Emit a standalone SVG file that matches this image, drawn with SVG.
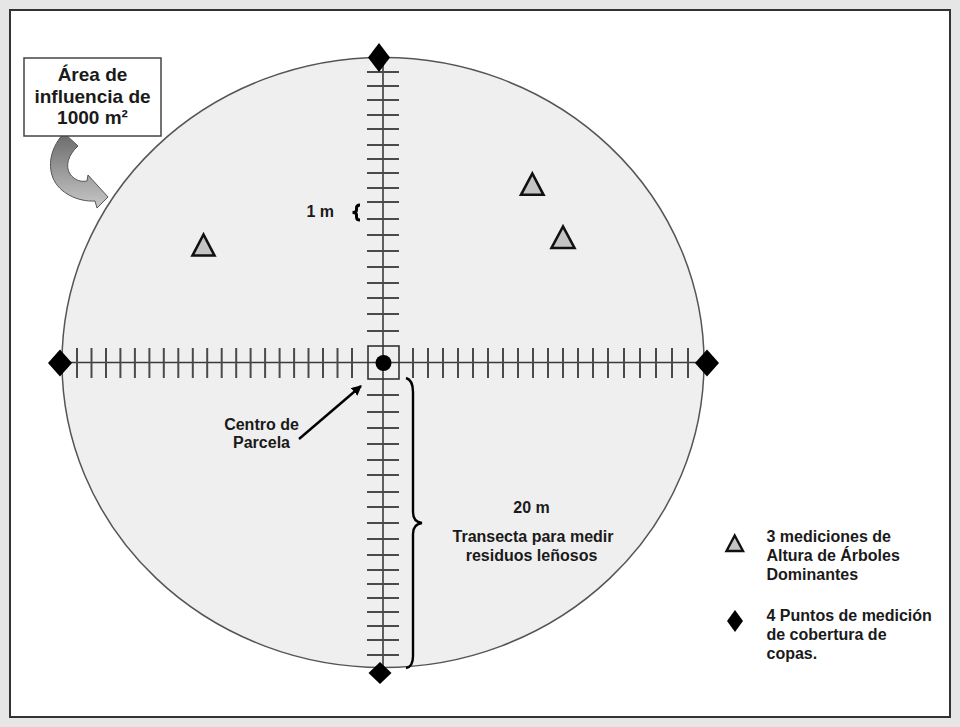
<svg xmlns="http://www.w3.org/2000/svg" width="960" height="727" viewBox="0 0 960 727">
<style>
.t{font-family:"Liberation Sans",Arial,sans-serif;font-weight:bold;font-size:16px;fill:#1a1a1a}
.tc{text-anchor:middle}
.tick{stroke:#4a4a4a;stroke-width:2}
.axis{stroke:#3a3a3a;stroke-width:1.6;fill:none}
.tri{fill:#c4c4c4;stroke:#111;stroke-width:2.6;stroke-linejoin:miter}
.dia{fill:#000}
</style>
<defs>
<linearGradient id="ag" x1="0" y1="0" x2="0" y2="1">
<stop offset="0" stop-color="#6a6a6a"/>
<stop offset="1" stop-color="#c8c8c8"/>
</linearGradient>
<marker id="ah" viewBox="0 0 10 10" refX="9" refY="5" markerWidth="10" markerHeight="10" markerUnits="userSpaceOnUse" orient="auto">
<path d="M0,0 L10,5 L0,10 Z" fill="#000"/>
</marker>
</defs>
<rect x="0" y="0" width="960" height="727" fill="#e6e6e6"/>
<rect x="10" y="10" width="940" height="707" fill="#fff" stroke="#333" stroke-width="2"/>
<g id="plot">
<ellipse cx="383" cy="362.5" rx="321" ry="305" fill="#efefef" stroke="#555" stroke-width="1.5"/>
</g>
<g id="connectors">
<line class="axis" x1="383" y1="57" x2="383" y2="670"/>
<line class="axis" x1="60" y1="362.5" x2="707" y2="362.5"/>
<g id="ticks-top">
<line class="tick" x1="367" y1="72" x2="399" y2="72"/>
<line class="tick" x1="367" y1="86" x2="399" y2="86"/>
<line class="tick" x1="367" y1="100" x2="399" y2="100"/>
<line class="tick" x1="367" y1="115" x2="399" y2="115"/>
<line class="tick" x1="367" y1="129" x2="399" y2="129"/>
<line class="tick" x1="367" y1="145" x2="399" y2="145"/>
<line class="tick" x1="367" y1="159" x2="399" y2="159"/>
<line class="tick" x1="367" y1="173" x2="399" y2="173"/>
<line class="tick" x1="367" y1="188" x2="399" y2="188"/>
<line class="tick" x1="367" y1="202" x2="399" y2="202"/>
<line class="tick" x1="367" y1="219" x2="399" y2="219"/>
<line class="tick" x1="367" y1="235" x2="399" y2="235"/>
<line class="tick" x1="367" y1="251" x2="399" y2="251"/>
<line class="tick" x1="367" y1="267" x2="399" y2="267"/>
<line class="tick" x1="367" y1="283" x2="399" y2="283"/>
<line class="tick" x1="367" y1="298" x2="399" y2="298"/>
<line class="tick" x1="367" y1="314" x2="399" y2="314"/>
<line class="tick" x1="367" y1="331" x2="399" y2="331"/>
</g>
<g id="ticks-bottom">
<line class="tick" x1="367" y1="395" x2="399" y2="395"/>
<line class="tick" x1="367" y1="412" x2="399" y2="412"/>
<line class="tick" x1="367" y1="428" x2="399" y2="428"/>
<line class="tick" x1="367" y1="444" x2="399" y2="444"/>
<line class="tick" x1="367" y1="460" x2="399" y2="460"/>
<line class="tick" x1="367" y1="475" x2="399" y2="475"/>
<line class="tick" x1="367" y1="492" x2="399" y2="492"/>
<line class="tick" x1="367" y1="507" x2="399" y2="507"/>
<line class="tick" x1="367" y1="523" x2="399" y2="523"/>
<line class="tick" x1="367" y1="539" x2="399" y2="539"/>
<line class="tick" x1="367" y1="555" x2="399" y2="555"/>
<line class="tick" x1="367" y1="570" x2="399" y2="570"/>
<line class="tick" x1="367" y1="584" x2="399" y2="584"/>
<line class="tick" x1="367" y1="598" x2="399" y2="598"/>
<line class="tick" x1="367" y1="612" x2="399" y2="612"/>
<line class="tick" x1="367" y1="626" x2="399" y2="626"/>
<line class="tick" x1="367" y1="640" x2="399" y2="640"/>
<line class="tick" x1="367" y1="655" x2="399" y2="655"/>
</g>
<g id="ticks-left">
<line class="tick" x1="77" y1="348" x2="77" y2="378"/>
<line class="tick" x1="91.5" y1="348" x2="91.5" y2="378"/>
<line class="tick" x1="106" y1="348" x2="106" y2="378"/>
<line class="tick" x1="120.4" y1="348" x2="120.4" y2="378"/>
<line class="tick" x1="134.9" y1="348" x2="134.9" y2="378"/>
<line class="tick" x1="149.4" y1="348" x2="149.4" y2="378"/>
<line class="tick" x1="163.8" y1="348" x2="163.8" y2="378"/>
<line class="tick" x1="178.3" y1="348" x2="178.3" y2="378"/>
<line class="tick" x1="192.8" y1="348" x2="192.8" y2="378"/>
<line class="tick" x1="207.2" y1="348" x2="207.2" y2="378" stroke="#222" stroke-width="2.6"/>
<line class="tick" x1="221.7" y1="348" x2="221.7" y2="378"/>
<line class="tick" x1="236.2" y1="348" x2="236.2" y2="378"/>
<line class="tick" x1="250.6" y1="348" x2="250.6" y2="378"/>
<line class="tick" x1="265.1" y1="348" x2="265.1" y2="378"/>
<line class="tick" x1="279.6" y1="348" x2="279.6" y2="378"/>
<line class="tick" x1="294.1" y1="348" x2="294.1" y2="378"/>
<line class="tick" x1="308.5" y1="348" x2="308.5" y2="378"/>
<line class="tick" x1="323" y1="348" x2="323" y2="378"/>
<line class="tick" x1="337.5" y1="348" x2="337.5" y2="378"/>
<line class="tick" x1="352" y1="348" x2="352" y2="378"/>
</g>
<g id="ticks-right">
<line class="tick" x1="413" y1="348" x2="413" y2="378"/>
<line class="tick" x1="428" y1="348" x2="428" y2="378"/>
<line class="tick" x1="443" y1="348" x2="443" y2="378"/>
<line class="tick" x1="458" y1="348" x2="458" y2="378"/>
<line class="tick" x1="473" y1="348" x2="473" y2="378"/>
<line class="tick" x1="488" y1="348" x2="488" y2="378"/>
<line class="tick" x1="503" y1="348" x2="503" y2="378"/>
<line class="tick" x1="518" y1="348" x2="518" y2="378"/>
<line class="tick" x1="533" y1="348" x2="533" y2="378"/>
<line class="tick" x1="548" y1="348" x2="548" y2="378"/>
<line class="tick" x1="563" y1="348" x2="563" y2="378"/>
<line class="tick" x1="578" y1="348" x2="578" y2="378"/>
<line class="tick" x1="593" y1="348" x2="593" y2="378"/>
<line class="tick" x1="608" y1="348" x2="608" y2="378"/>
<line class="tick" x1="624" y1="348" x2="624" y2="378"/>
<line class="tick" x1="640" y1="348" x2="640" y2="378"/>
<line class="tick" x1="656" y1="348" x2="656" y2="378"/>
<line class="tick" x1="672" y1="348" x2="672" y2="378" stroke="#222" stroke-width="2.6"/>
<line class="tick" x1="688" y1="348" x2="688" y2="378"/>
</g>
<path id="brace-big" d="M406,378 Q413,380 413,392 L413,512 Q413,522 422,523 Q413,524 413,534 L413,656 Q413,667 406,668" fill="none" stroke="#000" stroke-width="2.4"/>
<path id="brace-small" d="M360,205 Q356.5,205 356.5,208 L356.5,210 Q356.5,212.5 352.5,212.5 Q356.5,212.5 356.5,215 L356.5,217 Q356.5,220 360,220" fill="none" stroke="#000" stroke-width="3"/>
<line id="arrow-centro" x1="299" y1="439" x2="361" y2="386" stroke="#000" stroke-width="2.4" marker-end="url(#ah)"/>
<path id="arrow-area" d="M64,133 L78,146 C68,155 65,166 70,174 C75,181 82,182 87,181 L88,175 L108,197 L97,208 L95,201 C78,202 59,193 53,178 C47,163 52,146 64,133 Z" fill="url(#ag)" stroke="#555" stroke-width="1"/>
</g>
<g id="center">
<rect x="368" y="346" width="31" height="33" fill="none" stroke="#333" stroke-width="1.6"/>
<circle cx="383.5" cy="363" r="8" fill="#000"/>
</g>
<g id="markers">
<polygon class="dia" points="379,43 390,57.5 379,72 368,57.5"/>
<polygon class="dia" points="60,349.5 72,363 60,376.5 48,363"/>
<polygon class="dia" points="707,349.5 719,363 707,376.5 695,363"/>
<polygon class="dia" points="380,662 391.5,673 380,684 368.5,673"/>
<polygon class="tri" points="203.5,234.5 192.5,255.5 214.5,255.5"/>
<polygon class="tri" points="532.3,173.5 521,194.8 543.5,194.8"/>
<polygon class="tri" points="563,226.5 551.5,248 574.5,248"/>
</g>
<g id="callout">
<rect x="24" y="58" width="137" height="78" fill="#fff" stroke="#444" stroke-width="1.5"/>
<text class="t tc" x="92.5" y="81" style="font-size:19px">Área de</text>
<text class="t tc" x="92.5" y="103" style="font-size:19px">influencia de</text>
<text class="t tc" x="92.5" y="124" style="font-size:19px">1000 m²</text>
</g>
<g id="labels">
<text class="t" x="306.5" y="217">1 m</text>
<text class="t tc" x="261.5" y="430">Centro de</text>
<text class="t tc" x="261.5" y="448">Parcela</text>
<text class="t tc" x="531.5" y="513">20 m</text>
<text class="t tc" x="533" y="542">Transecta para medir</text>
<text class="t tc" x="531.5" y="561">residuos leñosos</text>
</g>
<g id="legend">
<polygon class="tri" points="734.7,535.5 726.5,551 743,551" style="stroke-width:2.4"/>
<text class="t" x="766.5" y="542">3 mediciones de</text>
<text class="t" x="766.5" y="561">Altura de Árboles</text>
<text class="t" x="766.5" y="580">Dominantes</text>
<polygon class="dia" points="735,610 743,621 735,632 727,621"/>
<text class="t" x="766.5" y="621">4 Puntos de medición</text>
<text class="t" x="766.5" y="640">de cobertura de</text>
<text class="t" x="766.5" y="659">copas.</text>
</g>
</svg>
